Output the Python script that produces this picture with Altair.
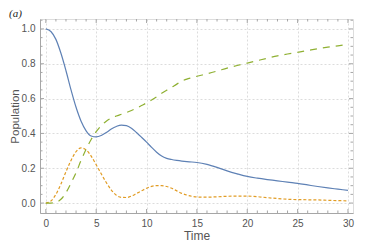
import altair as alt
import pandas as pd

t = [0, 0.5, 1, 1.5, 2, 2.5, 3, 3.5, 4, 4.5, 5, 5.5, 6, 6.5, 7, 7.5, 8, 8.5, 9, 9.5,
     10, 10.5, 11, 11.5, 12, 12.5, 13, 13.5, 14, 14.5, 15, 16, 17, 18, 19, 20,
     21, 22, 23, 24, 25, 26, 27, 28, 29, 30]

blue = [1.0, 0.985, 0.94, 0.86, 0.76, 0.65, 0.55, 0.47, 0.415, 0.385, 0.38, 0.388, 0.405, 0.425, 0.44, 0.448,
        0.445, 0.43, 0.405, 0.378, 0.35, 0.32, 0.292, 0.27, 0.257, 0.25, 0.245, 0.241, 0.238, 0.236,
        0.233, 0.222, 0.205, 0.185, 0.168, 0.153, 0.143, 0.135, 0.128, 0.12, 0.113, 0.104, 0.095,
        0.087, 0.08, 0.073]

orange = [0.0, 0.012, 0.05, 0.11, 0.18, 0.245, 0.295, 0.317, 0.305, 0.27, 0.22, 0.168, 0.118, 0.075, 0.045,
          0.033, 0.032, 0.04, 0.055, 0.07, 0.085, 0.096, 0.1, 0.1, 0.095, 0.085, 0.07, 0.056, 0.046,
          0.039, 0.035, 0.034, 0.036, 0.039, 0.04, 0.04, 0.037, 0.031, 0.026, 0.022, 0.02, 0.019,
          0.018, 0.016, 0.014, 0.013]

green = [0.0, 0.0, 0.004, 0.022, 0.06, 0.115, 0.175, 0.245, 0.31, 0.365, 0.41, 0.445, 0.47, 0.488, 0.5,
         0.51, 0.52, 0.532, 0.545, 0.56, 0.575, 0.592, 0.61, 0.63, 0.648, 0.665, 0.683, 0.7, 0.712,
         0.72, 0.728, 0.742, 0.758, 0.775, 0.79, 0.804, 0.818, 0.832, 0.845, 0.856, 0.866, 0.876,
         0.886, 0.895, 0.903, 0.912]

x_major = [0, 5, 10, 15, 20, 25, 30]
x_minor = [1, 2, 3, 4, 6, 7, 8, 9, 11, 12, 13, 14, 16, 17, 18, 19, 21, 22, 23, 24, 26, 27, 28, 29]
y_major = [0.0, 0.2, 0.4, 0.6, 0.8, 1.0]
y_minor = [0.05, 0.1, 0.15, 0.25, 0.3, 0.35, 0.45, 0.5, 0.55, 0.65, 0.7, 0.75, 0.85, 0.9, 0.95, 1.05]

W, H = 313, 194
FRAME = "#a6a6a6"
TXT = "#555555"

xscale = alt.Scale(domain=[-0.58, 30.5], nice=False, zero=False)
yscale = alt.Scale(domain=[-0.057, 1.057], nice=False, zero=False)

df = pd.DataFrame({"t": t, "blue": blue, "orange": orange, "green": green})

xaxis = alt.Axis(values=x_major, format="d", ticks=False, labelPadding=5, labelFontSize=10,
                 labelColor=TXT, labelFont="Liberation Sans", title="Time", titleFontSize=12,
                 titleFont="Liberation Sans", titleFontWeight="normal", titleColor=TXT, titlePadding=2,
                 grid=True, gridDash=[2, 2], gridColor="#dcdcdc", gridWidth=1,
                 domainColor=FRAME, labelFlush=False)
yaxis = alt.Axis(values=y_major, format=".1f", ticks=False, labelPadding=5, labelFontSize=10,
                 labelColor=TXT, labelFont="Liberation Sans", title="Population", titleFontSize=11.5,
                 titleFont="Liberation Sans", titleFontWeight="normal", titleColor=TXT, titlePadding=1,
                 grid=True, gridDash=[2, 2], gridColor="#dcdcdc", gridWidth=1,
                 domainColor=FRAME, labelFlush=False)

base = alt.Chart(df)

def series(col, color, dash=None):
    kw = dict(color=color, strokeWidth=1.2, interpolate="monotone", clip=True)
    if dash:
        kw["strokeDash"] = dash
    return base.mark_line(**kw).encode(
        x=alt.X("t:Q", scale=xscale, axis=xaxis, title="Time"),
        y=alt.Y(f"{col}:Q", scale=yscale, axis=yaxis, title="Population"),
    )

blue_l = series("blue", "#5E81B5")
orange_l = series("orange", "#E19C24", [3, 2])
green_l = series("green", "#8FB032", [7, 6])

def xticks(vals, length):
    d = alt.Chart(pd.DataFrame({"v": vals}))
    bot = d.mark_rule(color=FRAME, strokeWidth=1).encode(
        x=alt.X("v:Q", scale=xscale, axis=xaxis, title="Time"), y=alt.value(H), y2=alt.value(H - length))
    top = d.mark_rule(color=FRAME, strokeWidth=1).encode(
        x=alt.X("v:Q", scale=xscale, axis=xaxis, title="Time"), y=alt.value(0), y2=alt.value(length))
    return bot + top

def yticks(vals, length):
    d = alt.Chart(pd.DataFrame({"v": vals}))
    left = d.mark_rule(color=FRAME, strokeWidth=1).encode(
        y=alt.Y("v:Q", scale=yscale, axis=yaxis, title="Population"), x=alt.value(0), x2=alt.value(length))
    right = d.mark_rule(color=FRAME, strokeWidth=1).encode(
        y=alt.Y("v:Q", scale=yscale, axis=yaxis, title="Population"), x=alt.value(W), x2=alt.value(W - length))
    return left + right

label = alt.Chart(pd.DataFrame({"s": ["(a)"]})).mark_text(
    font="Liberation Serif", fontStyle="italic", fontSize=11, color="#222222",
    align="left", baseline="middle").encode(
    text="s:N", x=alt.value(-31), y=alt.value(-5))

chart = alt.layer(
    blue_l, orange_l, green_l,
    xticks(x_major, 4), xticks(x_minor, 2.5),
    yticks(y_major, 4), yticks(y_minor, 2.5),
    label,
).properties(
    width=W, height=H,
    autosize=alt.AutoSizeParams(type="none"),
    padding={"left": 32, "top": 11, "right": 13, "bottom": 30},
).configure_view(stroke=FRAME, strokeWidth=1).configure(background="white")

chart.save("out.html", embed_options={"renderer": "svg", "actions": False})
